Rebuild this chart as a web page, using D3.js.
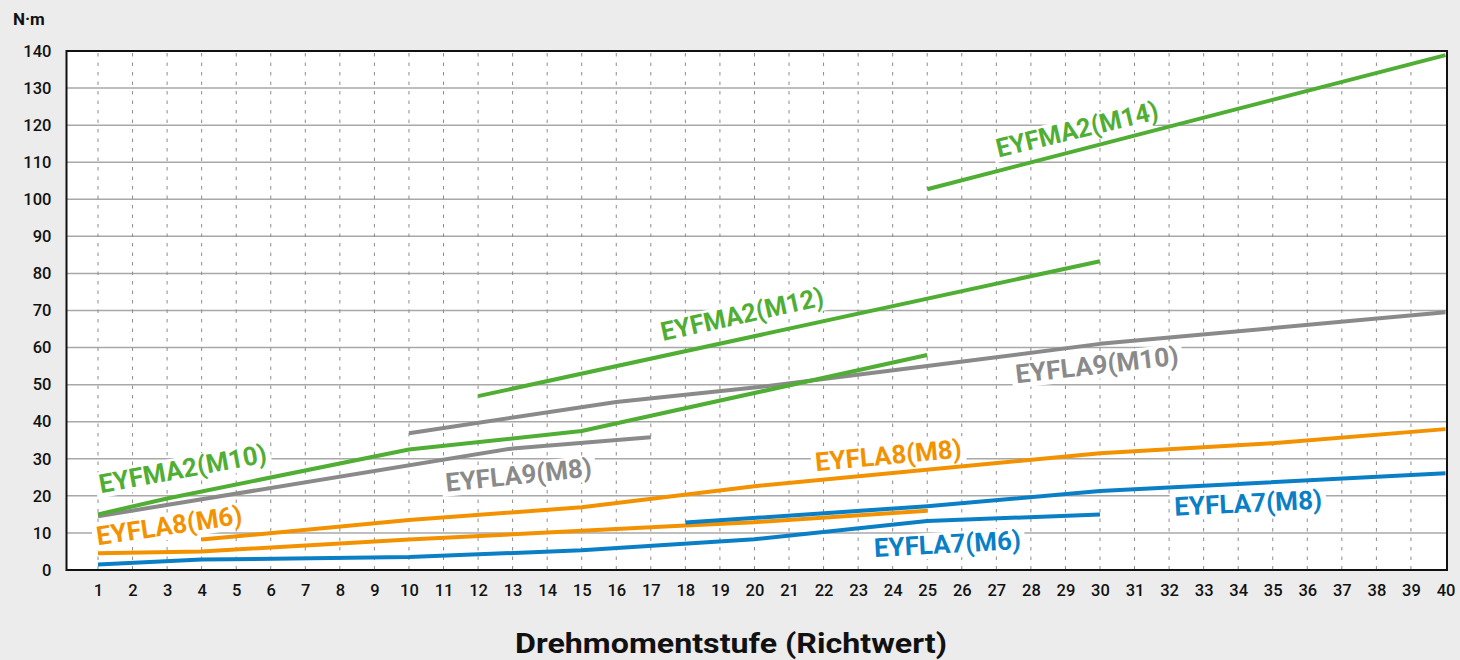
<!DOCTYPE html>
<html><head><meta charset="utf-8">
<script src="https://cdn.jsdelivr.net/npm/d3@7"></script>
<style>
html,body{margin:0;padding:0;background:#ececec;}
svg{display:block;}
</style></head>
<body><svg id="c" width="1460" height="660"></svg>
<script>
// ---- data ----
const xTicks = d3.range(1, 41);
const yTicks = d3.range(0, 141, 10);
const yUnit = "N·m";
const xTitle = "Drehmomentstufe (Richtwert)";

const fla7m6X = [1, 4, 10, 15, 20, 25, 30];
const fla7m6Y = [1.5, 2.8, 3.5, 5.3, 8.3, 13.2, 15.0];
const fla7m8X = [18, 25, 30, 40];
const fla7m8Y = [12.8, 17.2, 21.3, 26.1];
const fla8m6X = [1, 4, 10, 15, 18, 20, 25];
const fla8m6Y = [4.5, 5.0, 8.2, 10.6, 12.0, 12.9, 16.0];
const fla8m8X = [4, 10, 15, 20, 30, 35, 40];
const fla8m8Y = [8.2, 13.5, 16.9, 22.6, 31.5, 34.2, 38.0];
const fla9m8X = [1, 13, 17];
const fla9m8Y = [14.5, 32.8, 35.8];
const fla9m10X = [10, 16, 20, 25, 30, 40];
const fla9m10Y = [36.9, 45.3, 49.2, 55.0, 61.0, 69.5];
const fma2m10X = [1, 3, 10, 15, 25];
const fma2m10Y = [15.0, 19.3, 32.5, 37.5, 58.0];
const fma2m12X = [12, 30];
const fma2m12Y = [46.9, 83.3];
const fma2m14X = [25, 40];
const fma2m14Y = [102.7, 138.9];

const seriesNames = ["EYFLA9(M8)","EYFLA9(M10)","EYFLA8(M6)","EYFLA8(M8)","EYFLA7(M6)","EYFLA7(M8)","EYFMA2(M10)","EYFMA2(M12)","EYFMA2(M14)"];
const seriesX = [fla9m8X, fla9m10X, fla8m6X, fla8m8X, fla7m6X, fla7m8X, fma2m10X, fma2m12X, fma2m14X];
const seriesY = [fla9m8Y, fla9m10Y, fla8m6Y, fla8m8Y, fla7m6Y, fla7m8Y, fma2m10Y, fma2m12Y, fma2m14Y];
const seriesColor = ["#8a8a8a","#8a8a8a","#f39200","#f39200","#0a7fc6","#0a7fc6","#4fae33","#4fae33","#4fae33"];

// label placements: [step, value] anchor (baseline centre), angle, width
const labelNames = ["EYFMA2(M10)","EYFLA8(M6)","EYFLA9(M8)","EYFMA2(M12)","EYFMA2(M14)","EYFLA9(M10)","EYFLA8(M8)","EYFLA7(M8)","EYFLA7(M6)"];
const labelColor = ["#4fae33","#f39200","#8a8a8a","#4fae33","#4fae33","#8a8a8a","#f39200","#0a7fc6","#0a7fc6"];
const labelStep = [3.5, 3.1, 13.2, 19.7, 29.4, 29.94, 23.9, 34.3, 25.6];
const labelVal = [24.9, 9.6, 23.2, 66.6, 116.5, 52.9, 28.5, 15.6, 4.6];
const labelAngle = [-10.5, -8.5, -6, -12.5, -13.5, -6.5, -5.3, -2.8, -3.2];
const labelWidth = [170, 147, 147, 166, 166, 164, 147, 148, 147];

// ---- drawing ----
const svg = d3.select("#c");
const L = 66.5, R = 1447, T = 51, B = 570;
const x = d3.scaleLinear().domain([1, 40]).range([98, 1445.5]);
const y = d3.scaleLinear().domain([0, 140]).range([B, T]);

svg.append("rect").attr("x", L).attr("y", T).attr("width", R - L).attr("height", B - T).attr("fill", "#fff");

// horizontal grid
svg.append("g").selectAll("line").data(yTicks.filter(v => v > 0 && v < 140)).join("line")
  .attr("x1", L).attr("x2", R).attr("y1", d => y(d)).attr("y2", d => y(d))
  .attr("stroke", "#a8a8a8").attr("stroke-width", 1.5);

// vertical dashed grid
svg.append("g").selectAll("line").data(xTicks.filter(v => v < 40)).join("line")
  .attr("x1", d => x(d)).attr("x2", d => x(d)).attr("y1", T + 2).attr("y2", B)
  .attr("stroke", "#8c8c8c").attr("stroke-width", 1).attr("stroke-dasharray", "3.5,6");

// axes labels via d3 axes
const yAxis = svg.append("g").attr("transform", `translate(${L},0)`)
  .call(d3.axisLeft(y).tickValues(yTicks).tickSize(0).tickPadding(15));
yAxis.select(".domain").remove();
yAxis.selectAll("text").attr("font-family", "Roboto").attr("font-weight", 500).attr("font-size", 16.5).attr("fill", "#111");

const xAxis = svg.append("g").attr("transform", `translate(0,${B})`)
  .call(d3.axisBottom(x).tickValues(xTicks).tickSize(0).tickPadding(14));
xAxis.select(".domain").remove();
xAxis.selectAll("text").attr("font-family", "Roboto").attr("font-weight", 500).attr("font-size", 16.5).attr("fill", "#111");

// border
svg.append("rect").attr("x", L).attr("y", T).attr("width", R - L).attr("height", B - T)
  .attr("fill", "none").attr("stroke", "#111").attr("stroke-width", 2);

// lines
const line = d3.line().x(d => x(d[0])).y(d => y(d[1]));
seriesNames.forEach((n, i) => {
  const pts = seriesX[i].map((s, k) => [s, seriesY[i][k]]);
  svg.append("path").datum(pts).attr("d", line)
    .attr("fill", "none").attr("stroke", seriesColor[i]).attr("stroke-width", 4)
    .attr("stroke-linejoin", "round");
});

// labels
labelNames.forEach((n, i) => {
  const g = svg.append("g")
    .attr("transform", `translate(${x(labelStep[i])},${y(labelVal[i])}) rotate(${labelAngle[i]})`);
  const bg = g.append("rect").attr("fill", "#fff");
  const t = g.append("text").text(n)
    .attr("text-anchor", "middle")
    .attr("font-family", "Roboto").attr("font-weight", 700).attr("font-size", 26)
    .attr("textLength", labelWidth[i]).attr("lengthAdjust", "spacingAndGlyphs")
    .attr("fill", labelColor[i]);
  const bb = t.node().getBBox();
  bg.attr("x", -labelWidth[i] / 2 - 4).attr("y", bb.y + 3).attr("width", labelWidth[i] + 8).attr("height", bb.height - 4);
});

// unit and title
svg.append("text").attr("x", 13).attr("y", 25).text(yUnit)
  .attr("font-family", "Roboto").attr("font-weight", 700).attr("font-size", 17).attr("fill", "#111");
svg.append("text").attr("x", 731).attr("y", 653).attr("text-anchor", "middle").text(xTitle)
  .attr("font-family", "Roboto").attr("font-weight", 700).attr("font-size", 28)
  .attr("textLength", 432).attr("lengthAdjust", "spacingAndGlyphs").attr("fill", "#111");
</script></body></html>
